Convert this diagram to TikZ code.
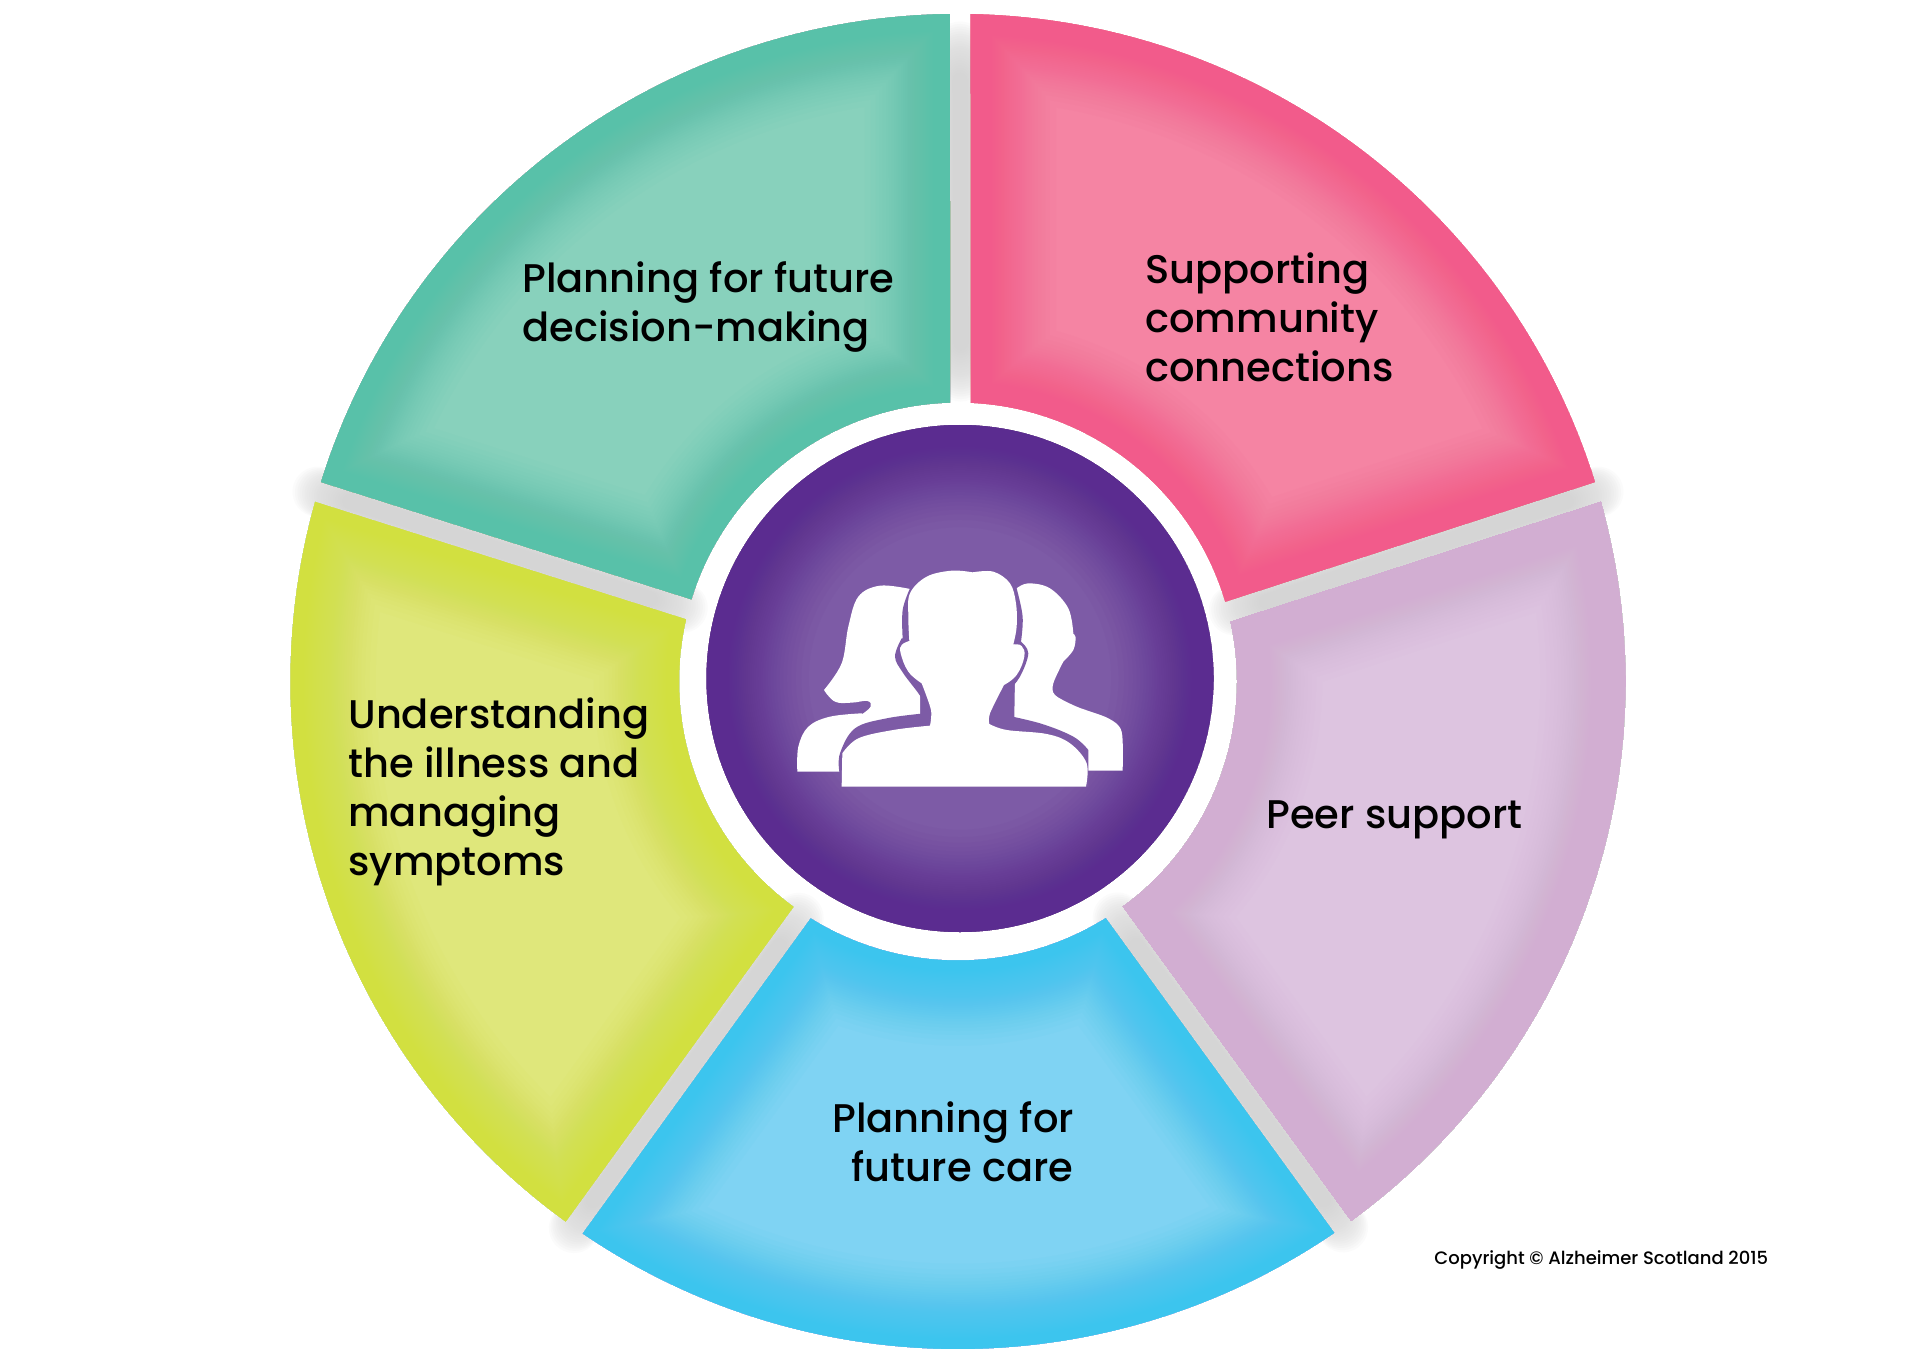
\documentclass[tikz,border=0pt]{standalone}
\usepackage{fontspec}
\newfontfamily\labelfont{Poppins Medium}
\definecolor{tealedge}{HTML}{58C1A9}
\definecolor{teallight}{HTML}{88D1BC}
\definecolor{pinkedge}{HTML}{F25B8B}
\definecolor{pinklight}{HTML}{F584A3}
\definecolor{mauveedge}{HTML}{D2AED2}
\definecolor{mauvelight}{HTML}{DDC4E0}
\definecolor{blueedge}{HTML}{3CC5EE}
\definecolor{bluelight}{HTML}{7FD3F3}
\definecolor{limeedge}{HTML}{D2E040}
\definecolor{limelight}{HTML}{DFE77B}
\definecolor{purpleedge}{HTML}{5B2C90}
\definecolor{purplelight}{HTML}{7D5BA6}
\definecolor{gapgrey}{HTML}{D5D5D5}
\pgfmathsetmacro{\rOut}{667.5}
\pgfmathsetmacro{\rIn}{279}
\pgfmathsetmacro{\dOut}{asin(10.4/\rOut)}
\pgfmathsetmacro{\dIn}{asin(10.4/\rIn)}
\tikzset{
	sector path/.style n args={4}{insert path={
		(#1+\dOut:\rOut) arc[start angle=#1+\dOut, end angle=#2-\dOut, radius=\rOut]
		-- (#4-\dIn:\rIn) arc[start angle=#4-\dIn, end angle=#3+\dIn, radius=\rIn]
		-- cycle}},
	wheel label/.style={font=\labelfont\fontsize{20}{24.6}\selectfont, align=left, anchor=west, inner sep=0pt, text=black},
	icon white/.style={fill=white, draw=none},
}
% sector with an inner glow: angles at the rim, angles at the ring, edge colour, light colour
\newcommand{\glowsector}[6]{
	\begin{scope}
		\clip[sector path={#1}{#2}{#3}{#4}];
		\fill[#6, sector path={#1}{#2}{#3}{#4}];
		\foreach \k [evaluate=\k as \w using {100*(1-sqrt(\k/46))}] in {1,...,45}
			\draw[#5, opacity=0.05, line join=round, line width=\w pt, sector path={#1}{#2}{#3}{#4}];
	\end{scope}
}
\begin{document}
\begin{tikzpicture}[x=0.5pt,y=0.5pt]

	\useasboundingbox (0,0) rectangle (1920,1357);
	\fill[white] (0,0) rectangle (1920,1357);

	\begin{scope}[shift={(958,675.5)}]
		% soft grey between the sectors
		\foreach \a/\b/\rA/\rB in {89.8/89.5/305/635, 16.5/14.5/285/668, -54.8/-55.9/285/668, -125.1/-124/285/668, 163.5/165/285/668}
			\foreach \i in {0,...,23}
				\draw[gapgrey, opacity=0.09, line cap=round, line width={(50-1.7*\i)*0.5pt}] (\b:{\rA+\i*1.6}) -- (\a:{\rB-\i*1.6});

		\glowsector{16.5}{89.8}{14.5}{89.5}{pinkedge}{pinklight}
		\glowsector{-54.8}{16.5}{-55.9}{14.5}{mauveedge}{mauvelight}
		\glowsector{-125.1}{-54.8}{-124}{-55.9}{blueedge}{bluelight}
		\glowsector{-196.5}{-125.1}{-195}{-124}{limeedge}{limelight}
		\glowsector{89.8}{163.5}{89.5}{165}{tealedge}{teallight}

		% middle disc
		\begin{scope}
			\clip (2,3) circle[radius=253.5];
			\fill[purplelight] (2,3) circle[radius=253.5];
			\foreach \k [evaluate=\k as \w using {120*(1-sqrt(\k/46))}] in {1,...,45}
				\draw[purpleedge, opacity=0.05, line width=\w pt] (2,3) circle[radius=253.5];
		\end{scope}
	\end{scope}

	% people, traced on a 3x grid
	\begin{scope}[shift={(780,807)},xscale=0.3333,yscale=-0.3333]
		\fill[icon white] plot[smooth,tension=0.6] coordinates {(52,665) (55,590) (85,530) (150,500) (245,490)}
			-- plot[smooth,tension=0.7] coordinates {(247,492) (272,470) (262,453) (215,458) (165,455) (132,420)}
			-- plot[smooth,tension=0.6] coordinates {(132,420) (185,340) (205,230) (235,140) (300,107) (390,117)}
			-- (420,300) -- (420,665) -- cycle;
		\fill[icon white] plot[smooth,tension=0.6] coordinates {(710,115) (745,100) (810,115) (865,175) (880,250)}
			-- plot[smooth,tension=0.6] coordinates {(880,252) (887,262) (880,300) (850,335)}
			-- plot[smooth,tension=0.5] coordinates {(850,335) (820,400) (825,435) (890,470) (985,505) (1025,545) (1028,662)}
			-- (700,662) -- cycle;
		\fill[purplelight] plot[smooth,tension=0.6] coordinates {(178,665) (180,610) (225,535) (320,505) (435,490)}
			-- plot[smooth,tension=0.6] coordinates {(435,490) (425,445) (370,370) (345,320) (365,265)}
			-- plot[smooth,tension=0.6] coordinates {(368,265) (368,180) (390,115)}
			-- (710,115) -- plot[smooth,tension=0.6] coordinates {(710,115) (728,200) (723,275)}
			-- plot[smooth,tension=0.6] coordinates {(723,275) (745,310) (720,380) (680,430) (650,470) (650,490)}
			-- plot[smooth,tension=0.6] coordinates {(650,490) (780,520) (880,560) (925,600)}
			-- (925,710) -- (185,710) -- cycle;
		\fill[icon white] (185,710) -- plot[smooth,tension=0.6] coordinates {(187,610) (235,565) (340,540) (450,527)}
			-- plot[smooth,tension=0.5] coordinates {(450,527) (453,480) (425,400)}
			-- plot[smooth,tension=0.7] coordinates {(425,400) (385,365) (362,310) (365,285) (388,273)}
			-- plot[smooth,tension=0.6] coordinates {(388,273) (385,200) (390,130) (440,80) (515,62) (578,67)}
			-- plot[smooth,tension=0.6] coordinates {(578,67) (640,65) (690,100) (708,160) (710,230) (700,283)}
			-- plot[smooth,tension=0.7] coordinates {(700,283) (725,288) (733,320) (710,375) (672,405)}
			-- plot[smooth,tension=0.5] coordinates {(672,405) (630,490) (628,522)}
			-- plot[smooth,tension=0.6] coordinates {(628,522) (680,540) (800,552) (870,580) (920,640) (918,710)}
			-- cycle;
	\end{scope}

	\node[wheel label] (decision) at (522,1050) {Planning for future\\decision-making};
	\node[wheel label] (community) at (1145,1040) {Supporting\\community\\connections};
	\node[wheel label] (peer) at (1266,537) {Peer support};
	\node[wheel label] (care) at (832,215) {Planning for\\\hspace*{9.6pt}future care};
	\node[wheel label] (illness) at (348,565) {Understanding\\the illness and\\managing\\symptoms};
	\node[font=\labelfont\fontsize{9}{11}\selectfont, anchor=west, inner sep=0pt] (copyright) at (1434,97) {Copyright © Alzheimer Scotland 2015};

\end{tikzpicture}
\end{document}
